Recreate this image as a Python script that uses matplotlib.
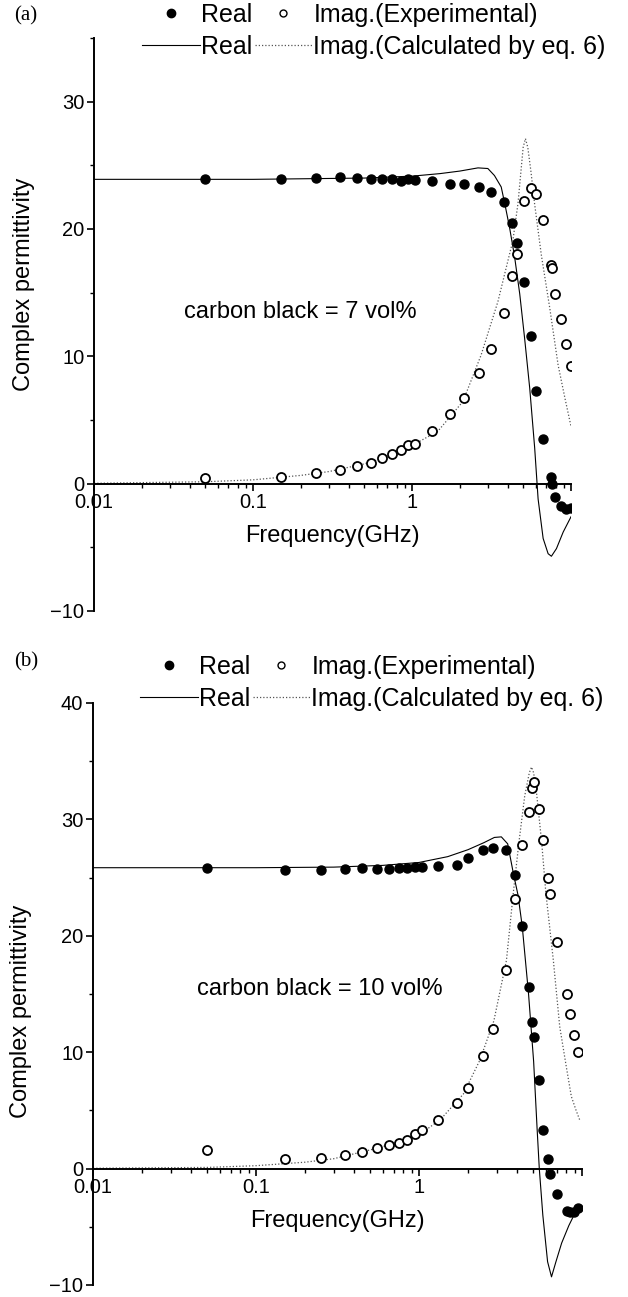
import matplotlib
matplotlib.use("Agg")
import matplotlib.pyplot as plt
from matplotlib.lines import Line2D
from matplotlib.ticker import FixedLocator, LogLocator, MultipleLocator, NullFormatter

plt.rcParams['font.family'] = ['Liberation Sans', 'DejaVu Sans']

# ----------------------- DATA (a) : 7 vol% -----------------------
freq_exp_a = [0.05, 0.15, 0.25, 0.35, 0.45, 0.55, 0.65, 0.75, 0.85, 0.95, 1.05,
              1.33, 1.74, 2.13, 2.63, 3.14, 3.77, 4.26, 4.6, 5.05, 5.6, 6.02,
              6.68, 7.49, 7.6, 7.95, 8.67, 9.27, 9.95]
real_exp_a = [23.89, 23.94, 24.0, 24.07, 24.02, 23.94, 23.94, 23.89, 23.8, 23.89, 23.86,
              23.8, 23.5, 23.5, 23.3, 22.9, 22.15, 20.5, 18.9, 15.8, 11.6, 7.3,
              3.5, 0.5, 0.0, -1.05, -1.76, -2.0, -1.9]
imag_exp_a = [0.45, 0.5, 0.8, 1.1, 1.4, 1.65, 2.0, 2.35, 2.65, 3.0, 3.15,
              4.16, 5.45, 6.76, 8.73, 10.6, 13.37, 16.3, 18.07, 22.18, 23.2, 22.76,
              20.7, 17.2, 16.9, 14.9, 12.9, 11.0, 9.26]

calc_freq_real_a = [0.01, 0.1, 0.5, 1.0, 1.5, 2.0, 2.6, 3.0, 3.3, 3.64, 3.86, 4.11,
                    4.42, 4.76, 5.11, 5.5, 5.91, 6.21, 6.68, 7.18, 7.53, 8.1, 8.93, 10.0]
calc_real_a = [23.9, 23.9, 24.0, 24.15, 24.35, 24.55, 24.8, 24.75, 24.2, 23.3, 21.8, 20.1,
               17.8, 14.9, 11.4, 7.5, 2.8, -1.2, -4.3, -5.5, -5.7, -5.1, -3.8, -2.6]

calc_freq_imag_a = [0.01, 0.05, 0.1, 0.2, 0.3, 0.5, 0.7, 1.0, 1.45, 2.09, 2.72, 3.47,
                    4.31, 4.64, 5.0, 5.17, 5.35, 5.6, 5.9, 6.5, 7.35, 8.3, 9.2, 10.0]
calc_imag_a = [0.03, 0.15, 0.3, 0.65, 0.95, 1.55, 2.1, 3.0, 4.1, 6.45, 10.1, 14.3,
               19.1, 22.0, 26.4, 27.1, 26.4, 24.5, 22.0, 18.0, 13.8, 9.3, 6.6, 4.5]

# ----------------------- DATA (b) : 10 vol% -----------------------
freq_exp_b = [0.05, 0.15, 0.25, 0.35, 0.45, 0.55, 0.65, 0.75, 0.85, 0.95, 1.05,
              1.31, 1.70, 2.0, 2.48, 2.86, 3.42, 3.88, 4.26, 4.75, 4.92, 5.08,
              5.45, 5.79, 6.21, 6.37, 7.06, 8.05, 8.44, 8.97, 9.4]
real_exp_b = [25.85, 25.65, 25.65, 25.75, 25.8, 25.7, 25.75, 25.8, 25.85, 25.9, 25.95,
              26.0, 26.1, 26.7, 27.4, 27.5, 27.4, 25.2, 20.8, 15.6, 12.6, 11.3,
              7.6, 3.3, 0.8, -0.5, -2.2, -3.6, -3.7, -3.7, -3.4]
imag_exp_b = [1.6, 0.8, 0.9, 1.2, 1.45, 1.75, 2.05, 2.2, 2.5, 2.95, 3.3,
              4.2, 5.6, 6.9, 9.7, 12.0, 17.1, 23.2, 27.8, 30.6, 32.7, 33.2,
              30.9, 28.2, 25.0, 23.6, 19.5, 15.0, 13.3, 11.5, 10.0]

calc_freq_real_b = [0.01, 0.1, 0.3, 0.6, 1.0, 1.5, 2.0, 2.5, 2.9, 3.2, 3.5, 3.8, 4.05,
                    4.3, 4.7, 5.05, 5.3, 5.47, 5.75, 6.15, 6.5, 6.92, 7.5, 8.3, 9.0, 9.7]
calc_real_b = [25.85, 25.85, 25.9, 26.05, 26.3, 26.8, 27.4, 28.0, 28.45, 28.5, 27.9, 25.3, 23.5,
               20.8, 15.0, 9.2, 3.5, 0.0, -4.0, -8.0, -9.3, -8.0, -6.4, -4.9, -3.9, -3.1]

calc_freq_imag_b = [0.01, 0.05, 0.1, 0.2, 0.3, 0.5, 0.7, 1.0, 1.35, 1.87, 2.36, 2.88, 3.44,
                    3.79, 4.1, 4.45, 4.75, 4.9, 5.05, 5.26, 5.66, 6.0, 6.67, 7.3, 8.0,
                    8.6, 9.2, 9.73]
calc_imag_b = [0.03, 0.1, 0.25, 0.55, 0.85, 1.6, 2.15, 2.9, 4.2, 6.4, 9.3, 12.7, 17.9,
               23.7, 28.0, 32.0, 34.0, 34.5, 34.0, 32.3, 28.0, 23.7, 17.9, 12.2, 8.8,
               6.2, 5.0, 4.1]

legend_labels = ['Real', 'Real', 'Imag.(Experimental)', 'Imag.(Calculated by eq. 6)']

W, H = 628, 1297
fig = plt.figure(figsize=(W / 100, H / 100), dpi=100)


def add_axes_px(left, right, top, bottom):
    return fig.add_axes([left / W, 1 - bottom / H, (right - left) / W, (bottom - top) / H])


def draw_panel(ax, ytop, f_exp, re_exp, im_exp, f_cr, re_c, f_ci, im_c, note, note_xy, label_y):
    ax.plot(f_cr, re_c, color='black', lw=0.8, zorder=2)
    ax.plot(f_ci, im_c, color='#555555', lw=0.9, ls=(0, (1, 1.6)), zorder=2)
    ax.plot(f_exp, re_exp, ls='none', marker='o', ms=6.5, color='black', zorder=3)
    ax.plot(f_exp, im_exp, ls='none', marker='o', ms=6.5, mfc='white', mec='black',
            mew=1.3, zorder=4)

    ax.set_xscale('log')
    ax.set_xlim(0.01, 10)
    ax.set_ylim(-10, ytop)
    for s in ['top', 'right']:
        ax.spines[s].set_visible(False)
    ax.spines['bottom'].set_position(('data', 0))
    ax.spines['left'].set_linewidth(1.4)
    ax.spines['bottom'].set_linewidth(1.4)

    ax.xaxis.set_major_locator(FixedLocator([0.01, 0.1, 1, 10]))
    ax.set_xticklabels(['0.01', '0.1', '1', ''])
    ax.xaxis.set_minor_locator(LogLocator(base=10, subs=range(2, 10)))
    ax.xaxis.set_minor_formatter(NullFormatter())
    ax.yaxis.set_major_locator(MultipleLocator(10))
    ax.yaxis.set_minor_locator(MultipleLocator(5))
    ax.tick_params(which='major', direction='out', length=5, width=1.2, labelsize=14.5, pad=2)
    ax.tick_params(which='minor', direction='out', length=3, width=1.0)

    ax.set_xlabel('Frequency(GHz)', fontsize=17, labelpad=9)
    ax.set_ylabel('Complex permittivity', fontsize=17)
    ax.yaxis.set_label_coords(-0.124, label_y)
    ax.text(note_xy[0], note_xy[1], note, transform=ax.get_yaxis_transform(),
            fontsize=17, ha='center', va='center')


def add_legend(x_px, y_px):
    handles = [
        Line2D([], [], ls='none', marker='o', color='black', ms=6),
        Line2D([], [], color='black', lw=0.8),
        Line2D([], [], ls='none', marker='o', mfc='white', mec='black', ms=5, mew=1.0),
        Line2D([], [], color='#555555', lw=0.9, ls=(0, (1, 1.6))),
    ]
    fig.legend(handles, legend_labels, ncol=2, loc='upper left',
               bbox_to_anchor=(x_px / W, 1 - y_px / H), frameon=False, fontsize=18,
               handlelength=2.3, handletextpad=0.05, columnspacing=0.1,
               labelspacing=0.32, borderpad=0, borderaxespad=0)


ax1 = add_axes_px(94, 571, 38, 611)
draw_panel(ax1, 35, freq_exp_a, real_exp_a, imag_exp_a,
           calc_freq_real_a, calc_real_a, calc_freq_imag_a, calc_imag_a,
           'carbon black = 7 vol%', (0.432, 13.5), 0.57)
add_legend(142, 3)
fig.text(14 / W, 1 - 16 / H, '(a)', fontsize=15, family='Liberation Serif', va='center')

ax2 = add_axes_px(93, 582, 703, 1285)
draw_panel(ax2, 40, freq_exp_b, real_exp_b, imag_exp_b,
           calc_freq_real_b, calc_real_b, calc_freq_imag_b, calc_imag_b,
           'carbon black = 10 vol%', (0.464, 15.4), 0.47)
add_legend(140, 655)
fig.text(14 / W, 1 - 662 / H, '(b)', fontsize=15, family='Liberation Serif', va='center')

fig.savefig('out.png', dpi=100, facecolor='white')
